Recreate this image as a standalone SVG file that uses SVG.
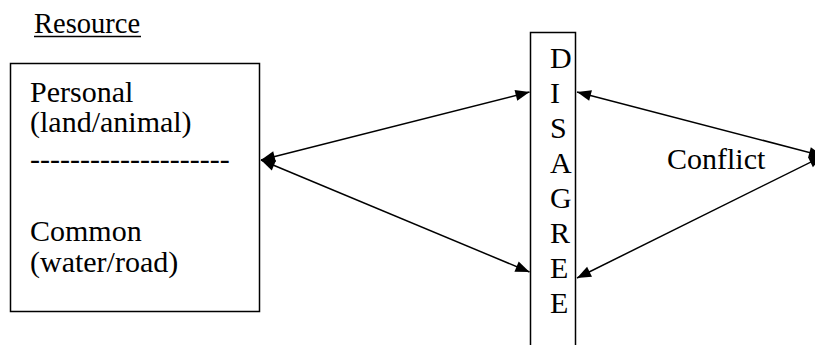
<svg xmlns="http://www.w3.org/2000/svg" width="815" height="345" viewBox="0 0 815 345">
  <style>
    .txt { font-family: 'Liberation Serif', Tinos, 'Times New Roman', serif; font-size: 30px; fill: #000; }
    .box { fill: #fff; stroke: #000; stroke-width: 1.5; }
    .link { stroke: #000; stroke-width: 1.5; fill: none; marker-start: url(#head); marker-end: url(#head); }
  </style>
  <defs>
    <marker id="head" markerUnits="userSpaceOnUse" markerWidth="16" markerHeight="14" viewBox="0 0 16 14" refX="15" refY="7" orient="auto-start-reverse">
      <path d="M1,1.5 L15,7 L1,12.5 Z" fill="#000"/>
    </marker>
  </defs>
  <rect width="815" height="345" fill="#fff"/>

  <!-- heading -->
  <g id="heading">
    <text class="txt" x="34" y="33" style="font-size:28.5px">Resource</text>
    <line x1="34" y1="36.5" x2="141" y2="36.5" stroke="#000" stroke-width="1.5"/>
  </g>

  <!-- resource box -->
  <g id="resource">
    <rect class="box" x="10.5" y="63.5" width="249" height="248"/>
    <text class="txt" x="30" y="102">Personal</text>
    <text class="txt" x="30" y="132">(land/animal)</text>
    <text class="txt" x="30" y="169">--------------------</text>
    <text class="txt" x="30" y="241">Common</text>
    <text class="txt" x="30" y="272">(water/road)</text>
  </g>

  <!-- vertical bar -->
  <g id="disagree">
    <path class="box" d="M530.5,350 V32.5 H575.5 V350"/>
    <text class="txt" x="550" y="68">D</text>
    <text class="txt" x="550" y="103">I</text>
    <text class="txt" x="550" y="138">S</text>
    <text class="txt" x="550" y="173">A</text>
    <text class="txt" x="550" y="208">G</text>
    <text class="txt" x="550" y="243">R</text>
    <text class="txt" x="550" y="278">E</text>
    <text class="txt" x="550" y="313">E</text>
  </g>

  <g id="conflict">
    <text class="txt" x="667" y="169">Conflict</text>
  </g>

  <!-- connectors -->
  <g id="connectors">
    <line class="link" x1="261" y1="160" x2="529.5" y2="92"/>
    <line class="link" x1="261" y1="160" x2="529.5" y2="272"/>
    <line class="link" x1="577" y1="92" x2="823" y2="156"/>
    <line class="link" x1="577" y1="278" x2="823" y2="156"/>
  </g>
</svg>
